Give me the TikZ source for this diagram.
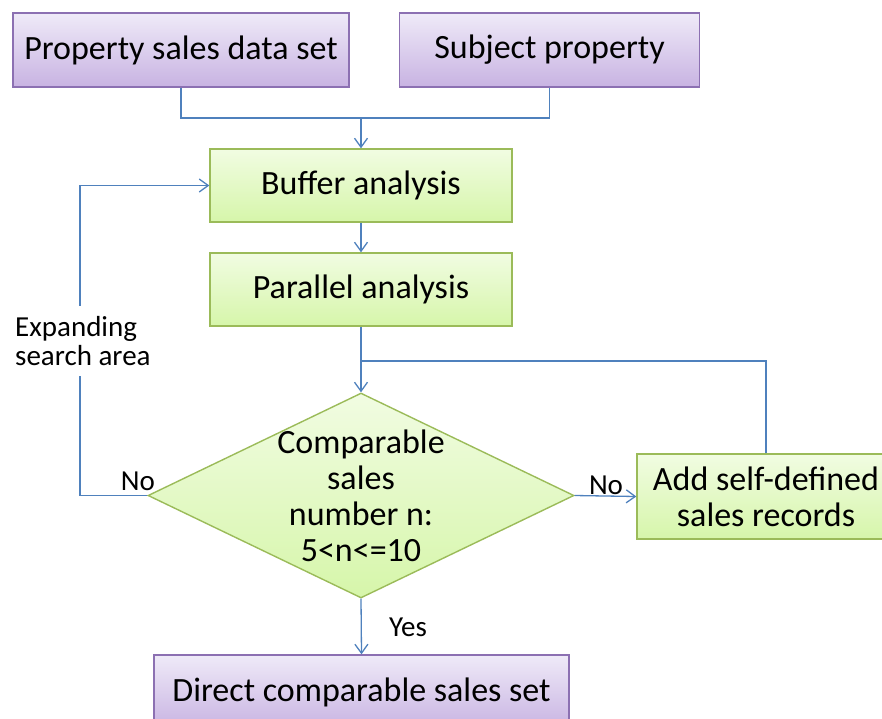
\documentclass[tikz,border=0pt]{standalone}
\usepackage{fontspec}
\setmainfont{Carlito}
\usetikzlibrary{arrows.meta,shapes.geometric}
\definecolor{lavtop}{RGB}{239,234,248}
\definecolor{lavbot}{RGB}{200,179,226}
\definecolor{lavline}{RGB}{140,112,178}
\definecolor{grntop}{RGB}{241,252,226}
\definecolor{grnbot}{RGB}{214,246,170}
\definecolor{grnline}{RGB}{155,187,89}
\definecolor{flow}{RGB}{79,129,189}
\tikzset{
  every node/.style={inner sep=0pt},
  mainfont/.style={font=\fontsize{34}{36}\selectfont},
  labelfont/.style={font=\fontsize{29}{29}\selectfont},
  inputbox/.style={rectangle, draw=lavline, line width=1.4pt,
    top color=lavtop, bottom color=lavbot, mainfont, align=center},
  stepbox/.style={rectangle, draw=grnline, line width=1.4pt,
    top color=grntop, bottom color=grnbot, mainfont, align=center},
  decision/.style={diamond, draw=grnline, line width=1.4pt,
    top color=grntop, bottom color=grnbot},
  flowline/.style={draw=flow, line width=1.3pt},
  arr/.style={flowline, -{Straight Barb[length=9pt,width=13pt]}},
}
\begin{document}
\begin{tikzpicture}[x=1pt, y=-1pt]
\useasboundingbox (0,0) rectangle (882,718);

% input boxes
\node[inputbox, minimum width=336pt, minimum height=74pt] (data) at (181,50) {Property sales data set};
\node[inputbox, minimum width=300pt, minimum height=74pt] (subj) at (549.5,50) {Subject property};

% analysis steps
\node[stepbox, minimum width=302pt, minimum height=73pt] (buf) at (361,185.5) {Buffer analysis};
\node[stepbox, minimum width=302pt, minimum height=73pt] (par) at (361,289.5) {Parallel analysis};

% decision
\node[decision, minimum width=426pt, minimum height=205pt] (dec) at (361,495.5) {};
\node[mainfont, align=center] (dectext) at (361,496) {Comparable\\sales\\number n:\\5<n<=10};

% side step and result
\node[stepbox, minimum width=258pt, minimum height=85pt] (add) at (766,496.5) {Add self-defined\\sales records};
\node[inputbox, minimum width=415pt, minimum height=74pt] (res) at (361.5,692) {Direct comparable sales set};

% junctions
\coordinate (join) at (361,118);
\coordinate (merge) at (361,361);
\coordinate (leftc) at (80,495.5);

% connectors
\draw[flowline] (data.south) |- (join) -| (subj.south);
\draw[arr] (join) -- (buf.north);
\draw[arr] (buf.south) -- (par.north);
\draw[arr] (par.south) -- (dec.north);
\draw[flowline] (add.north) |- (merge);
\draw[arr] (dec.west) -- (leftc) |- (buf.west);
\draw[arr] (dec.east) -- (add.west);
\draw[arr] (dec.south) -- (res.north);

% labels
\node[labelfont, fill=white, align=left, anchor=west, inner ysep=10pt, inner xsep=1pt] (expand) at (14,341) {Expanding\\search area};
\node[labelfont] (noleft) at (138,481) {No};
\node[labelfont] (noright) at (606,485) {No};
\node[labelfont] (yes) at (408,627) {Yes};
\end{tikzpicture}
\end{document}
